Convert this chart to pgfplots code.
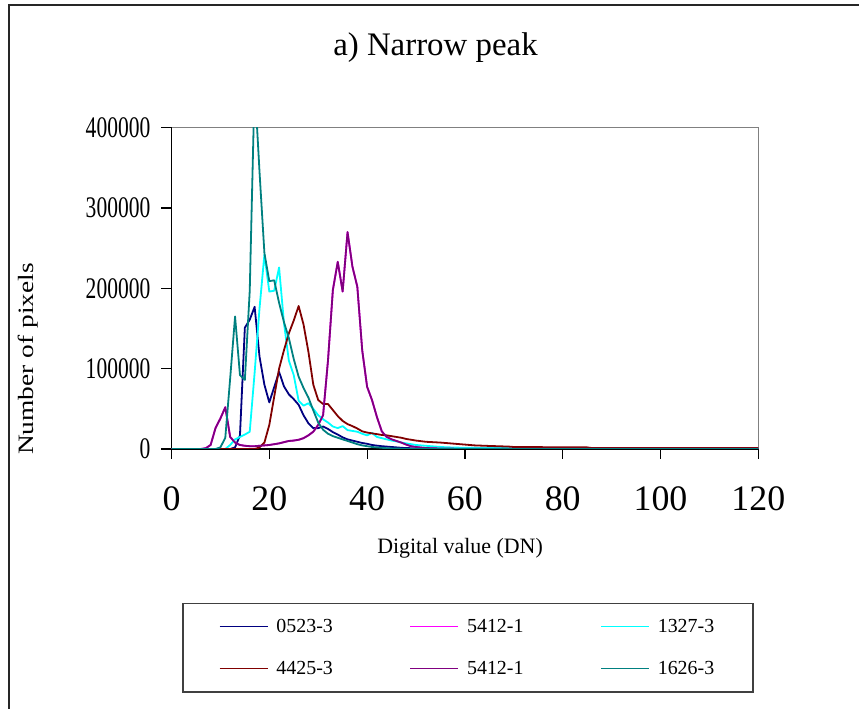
\documentclass[border=0pt]{standalone}
\usepackage{fontspec}
\setmainfont{Liberation Serif}
\usepackage{pgfplots}
\pgfplotsset{compat=1.18}

\definecolor{cnavy}{HTML}{000080}
\definecolor{cmag}{HTML}{FF00FF}
\definecolor{ccyan}{HTML}{00FFFF}
\definecolor{cdred}{HTML}{800000}
\definecolor{cpurp}{HTML}{800080}
\definecolor{cteal}{HTML}{008080}

\begin{document}
\begin{tikzpicture}
\useasboundingbox (0,0) rectangle (859bp,709bp);
% chart area frame (only top and left edges fall inside the picture)
\draw[line width=1.6bp, black!85] (8.7bp,-5bp) -- (8.7bp,704bp) -- (875bp,704bp);
\begin{axis}[
    at={(171.5bp,260bp)}, anchor=south west,
    scale only axis, width=586.8bp, height=321.3bp,
    xmin=0, xmax=120, ymin=0, ymax=400000,
    clip mode=individual,
    axis x line*=bottom, axis y line*=left,
    axis line style={line width=1.3bp, black},
    xtick={0,20,...,120}, ytick={0,100000,...,400000},
    tick align=outside, major tick length=10bp,
    tick style={line width=1.2bp, black},
    scaled y ticks=false,
    /pgf/number format/assume math mode=true,
    xticklabel style={font=\fontsize{36}{40}\selectfont, anchor=north, inner sep=0pt, yshift=-27bp},
    yticklabel={\scalebox{0.72}[1]{\pgfmathprintnumber[fixed,1000 sep={}]{\tick}}},
    yticklabel style={font=\fontsize{30}{34}\selectfont, anchor=east, inner sep=0pt, xshift=-11bp},
    title={a) Narrow peak},
    title style={at={(axis description cs:0.4499,1.2076)}, anchor=base, yshift=0pt,
        font=\fontsize{33}{38}\selectfont, inner sep=0pt},
    xlabel={Digital value (DN)},
    xlabel style={at={(axis description cs:0.4917,-0.3256)}, anchor=base,
        font=\fontsize{22}{26}\selectfont, inner sep=0pt},
    ylabel={\scalebox{1}[0.8]{Number of pixels}},
    ylabel style={at={(axis description cs:-0.2437,0.280)}, anchor=center, rotate=0,
        font=\fontsize{27.5}{31}\selectfont, inner sep=0pt},
    legend columns=3,
    legend style={at={(axis description cs:0.5053,-0.6179)}, anchor=center,
        draw=black!75, line width=1.3bp, font=\fontsize{20}{24}\selectfont,
        inner xsep=36bp, inner ysep=13bp, row sep=22bp,
        nodes={inner sep=2.8bp},
        /tikz/every even column/.append style={column sep=74bp}},
    legend image code/.code={\draw[#1, line width=1.5bp] (0bp,0bp) -- (48bp,0bp);
        \path (53bp,0bp);},
    every axis plot/.append style={line width=1.8bp, line join=round},
]
\draw[line width=1.3bp, black!50] (rel axis cs:0,1) -- (rel axis cs:1,1) -- (rel axis cs:1,0);

% 0523-3
\addplot[cnavy] coordinates {
(0,0) (12,0) (13,2000) (14,17000) (15,151000) (16,161000) (17,177000) (18,115000)
(19,80000) (20,58000) (21,77000) (22,96000) (23,78000) (24,68000) (25,62000)
(26,55000) (27,42000) (28,32000) (29,26000) (30,26000) (31,28000) (32,25000)
(33,21000) (34,18000) (35,14500) (36,12000) (37,10500) (38,9000) (39,7500)
(40,6500) (41,5000) (42,4200) (43,3500) (44,3000) (45,2500) (46,2000) (47,1500)
(48,1200) (50,800) (55,400) (60,200) (70,100) (120,0)
};
\addlegendentry{0523-3}

% 5412-1 (hidden under the second 5412-1 curve)
\addplot[cmag] coordinates {
(0,0) (6,0) (7,1000) (8,5000) (9,26000) (10,38000) (11,52000) (12,15000) (13,8000)
(14,5000) (15,4000) (16,3500) (17,3500) (18,4000) (19,4500) (20,5000) (21,6000)
(22,7000) (23,8500) (24,10000) (25,10500) (26,11500) (27,13500) (28,17000)
(29,21600) (30,30000) (31,42000) (32,110000) (33,198000) (34,233000) (35,196000)
(36,270000) (37,227000) (38,202000) (39,123000) (40,77500) (41,61000) (42,40000)
(43,22000) (44,15000) (45,12000) (46,10000) (47,8000) (48,5500) (49,3500)
(50,2500) (51,1800) (52,1200) (55,600) (60,300) (120,200)
};
\addlegendentry{5412-1}

% 1327-3
\addplot[ccyan] coordinates {
(0,0) (11,0) (12,5000) (13,12000) (14,15000) (15,18000) (16,21500) (17,95000)
(18,175000) (19,242000) (20,196000) (21,197000) (22,226000) (23,157000)
(24,110000) (25,92000) (26,60000) (27,54000) (28,57000) (29,50000) (30,42000)
(31,37000) (32,33000) (33,28000) (34,26000) (35,28500) (36,23500) (37,22500)
(38,21500) (39,19000) (40,17000) (41,20000) (42,15000) (43,13500) (44,12000)
(45,10500) (46,9500) (47,8000) (48,7000) (49,6000) (50,5000) (52,4000) (54,3000)
(56,2200) (58,1800) (60,1500) (70,1000) (120,800)
};
\addlegendentry{1327-3}

% 4425-3
\addplot[cdred] coordinates {
(0,0) (17,0) (18,2000) (19,8000) (20,30000) (21,65000) (22,100000) (23,123000)
(24,144000) (25,160000) (26,178000) (27,155000) (28,121000) (29,80000) (30,61000)
(31,56000) (32,56000) (33,48500) (34,41000) (35,35000) (36,31000) (37,28500)
(38,25500) (39,22000) (40,20500) (41,19500) (42,18500) (43,17500) (44,17000)
(45,16000) (46,15000) (47,14000) (48,12500) (49,11500) (50,10500) (52,9000)
(55,8000) (58,6500) (60,5500) (62,4500) (65,3800) (69,3000) (70,2500) (85,2000)
(86,1200) (120,1200)
};
\addlegendentry{4425-3}

% 5412-1
\addplot[cpurp] coordinates {
(0,0) (6,0) (7,1000) (8,5000) (9,26000) (10,38000) (11,52000) (12,15000) (13,8000)
(14,5000) (15,4000) (16,3500) (17,3500) (18,4000) (19,4500) (20,5000) (21,6000)
(22,7000) (23,8500) (24,10000) (25,10500) (26,11500) (27,13500) (28,17000)
(29,21600) (30,30000) (31,42000) (32,110000) (33,198000) (34,233000) (35,196000)
(36,270000) (37,227000) (38,202000) (39,123000) (40,77500) (41,61000) (42,40000)
(43,22000) (44,15000) (45,12000) (46,10000) (47,8000) (48,5500) (49,3500)
(50,2500) (51,1800) (52,1200) (55,600) (60,300) (120,200)
};
\addlegendentry{5412-1}

% 1626-3
\addplot[cteal] coordinates {
(0,0) (9,0) (10,2000) (11,14000) (12,88000) (13,165000) (14,92000) (15,86000)
(16,197000) (17,455000) (18,345000) (19,244000) (20,209000) (21,210000)
(22,182000) (23,158000) (24,138000) (25,112000) (26,90000) (27,76000) (28,64000)
(29,48000) (30,33000) (31,24000) (32,19000) (33,16000) (34,14000) (35,12000)
(36,10000) (37,8000) (38,6000) (39,4500) (40,3500) (41,2500) (42,2000) (43,1500)
(44,1000) (46,500) (50,200) (60,0) (120,0)
};
\addlegendentry{1626-3}
\end{axis}
\end{tikzpicture}
\end{document}
